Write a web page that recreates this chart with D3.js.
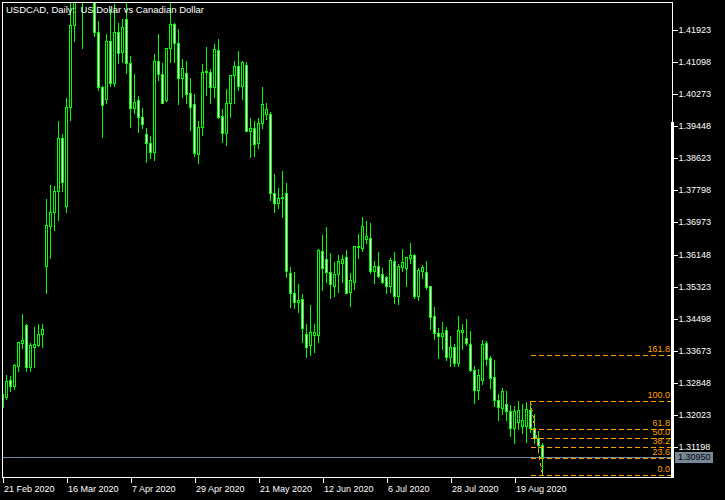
<!DOCTYPE html>
<html><head><meta charset="utf-8">
<script src="https://cdn.jsdelivr.net/npm/d3@7"></script>
<style>html,body{margin:0;padding:0;background:#000;}svg{display:block;}</style>
</head><body>
<svg id="chart" width="725" height="500"></svg>
<script>
// ---- data (USDCAD daily OHLC) ----
const openP = [1.3223,1.3249,1.3292,1.3277,1.3329,1.3388,1.3434,1.3325,1.3378,1.3382,
1.3410,1.3585,1.3689,1.3723,1.3779,1.3914,1.3740,1.3995,1.4205,1.4485,
1.4470,1.4375,1.4500,1.4400,1.4187,1.4045,1.4014,1.4164,1.4057,1.4187,
1.4135,1.4220,1.4107,1.3991,1.4012,1.3969,1.3924,1.3901,1.3879,1.4113,
1.4079,1.4012,1.4145,1.4207,1.4158,1.4070,1.4081,1.4030,1.4002,1.3873,
1.3942,1.4084,1.4084,1.4045,1.4141,1.3971,1.3928,1.4004,1.4077,1.4100,
1.4049,1.4102,1.3933,1.3940,1.3901,1.3952,1.3976,1.3976,1.3772,1.3748,
1.3760,1.3772,1.3568,1.3516,1.3494,1.3500,1.3410,1.3381,1.3408,1.3408,
1.3624,1.3603,1.3571,1.3534,1.3564,1.3593,1.3609,1.3519,1.3545,1.3637,
1.3631,1.3656,1.3657,1.3573,1.3585,1.3564,1.3556,1.3534,1.3598,1.3509,
1.3584,1.3580,1.3607,1.3614,1.3507,1.3573,1.3569,1.3534,1.3457,1.3412,
1.3406,1.3421,1.3352,1.3376,1.3337,1.3415,1.3399,1.3384,1.3318,1.3266,
1.3292,1.3388,1.3349,1.3299,1.3240,1.3219,1.3230,1.3212,1.3168,1.3185,
1.3174,1.3173,1.3215,1.3168,1.3142,1.3126];
const highP = [1.3261,1.3308,1.3305,1.3335,1.3392,1.3465,1.3439,1.3390,1.3431,1.3439,
1.3439,1.3761,1.3796,1.3794,1.3961,1.3927,1.4019,1.4280,1.4530,1.4667,
1.4500,1.4540,1.4510,1.4440,1.4218,1.4051,1.4184,1.4249,1.4262,1.4214,
1.4222,1.4264,1.4128,1.4081,1.4025,1.3995,1.3944,1.3922,1.4132,1.4184,
1.4111,1.4149,1.4264,1.4214,1.4197,1.4120,1.4115,1.4072,1.4030,1.3961,
1.4108,1.4151,1.4094,1.4158,1.4173,1.3991,1.4042,1.4079,1.4115,1.4141,
1.4115,1.4113,1.3969,1.3961,1.3969,1.4048,1.4007,1.3984,1.3824,1.3789,
1.3832,1.3802,1.3585,1.3573,1.3541,1.3516,1.3438,1.3488,1.3438,1.3631,
1.3668,1.3687,1.3622,1.3597,1.3616,1.3616,1.3630,1.3571,1.3639,1.3669,
1.3714,1.3704,1.3699,1.3601,1.3624,1.3582,1.3562,1.3609,1.3624,1.3592,
1.3631,1.3611,1.3647,1.3618,1.3582,1.3590,1.3601,1.3537,1.3483,1.3429,
1.3444,1.3431,1.3408,1.3388,1.3459,1.3440,1.3452,1.3421,1.3331,1.3323,
1.3397,1.3395,1.3357,1.3346,1.3258,1.3274,1.3266,1.3230,1.3227,1.3241,
1.3234,1.3237,1.3239,1.3207,1.3164,1.3133];
const lowP = [1.3218,1.3243,1.3265,1.3268,1.3314,1.3375,1.3314,1.3316,1.3326,1.3380,
1.3378,1.3515,1.3607,1.3678,1.3704,1.3778,1.3725,1.3961,1.4165,1.4350,
1.4146,1.4300,1.4290,1.4177,1.4038,1.3918,1.4004,1.4047,1.4047,1.4107,
1.4111,1.4081,1.3944,1.3978,1.3931,1.3940,1.3854,1.3862,1.3858,1.4064,
1.4004,1.4010,1.4111,1.4111,1.4002,1.4021,1.4004,1.3935,1.3867,1.3850,
1.3922,1.4025,1.4004,1.4021,1.3966,1.3905,1.3897,1.3969,1.4004,1.4038,
1.4015,1.3932,1.3865,1.3867,1.3888,1.3940,1.3963,1.3755,1.3725,1.3734,
1.3712,1.3558,1.3481,1.3478,1.3468,1.3391,1.3352,1.3357,1.3364,1.3391,
1.3524,1.3545,1.3504,1.3507,1.3519,1.3545,1.3515,1.3483,1.3526,1.3607,
1.3625,1.3645,1.3567,1.3541,1.3556,1.3541,1.3517,1.3519,1.3491,1.3488,
1.3573,1.3534,1.3592,1.3504,1.3498,1.3555,1.3526,1.3424,1.3398,1.3349,
1.3372,1.3344,1.3329,1.3329,1.3329,1.3371,1.3382,1.3316,1.3233,1.3243,
1.3282,1.3331,1.3271,1.3226,1.3189,1.3205,1.3189,1.3147,1.3131,1.3166,
1.3157,1.3133,1.3159,1.3129,1.3110,1.3047];
const closeP = [1.3256,1.3290,1.3277,1.3331,1.3390,1.3395,1.3325,1.3382,1.3385,1.3410,
1.3423,1.3691,1.3724,1.3778,1.3914,1.3802,1.3995,1.4205,1.4485,1.4470,
1.4375,1.4500,1.4400,1.4187,1.4045,1.3999,1.4164,1.4057,1.4187,1.4132,
1.4201,1.4107,1.3991,1.4006,1.3969,1.3950,1.3901,1.3879,1.4113,1.4079,
1.4005,1.4147,1.4207,1.4158,1.4070,1.4094,1.4028,1.3995,1.3875,1.3942,
1.4084,1.4087,1.4045,1.4143,1.3969,1.3928,1.4004,1.4077,1.4100,1.4049,
1.4110,1.3933,1.3941,1.3898,1.3952,1.4001,1.3989,1.3772,1.3748,1.3760,
1.3764,1.3573,1.3517,1.3494,1.3498,1.3425,1.3378,1.3415,1.3415,1.3627,
1.3581,1.3571,1.3538,1.3565,1.3598,1.3603,1.3517,1.3549,1.3637,1.3635,
1.3688,1.3663,1.3573,1.3585,1.3560,1.3545,1.3534,1.3601,1.3509,1.3585,
1.3596,1.3609,1.3614,1.3507,1.3575,1.3584,1.3532,1.3455,1.3414,1.3406,
1.3414,1.3352,1.3376,1.3337,1.3421,1.3421,1.3388,1.3317,1.3266,1.3305,
1.3385,1.3346,1.3298,1.3240,1.3222,1.3264,1.3213,1.3168,1.3212,1.3215,
1.3189,1.3217,1.3168,1.3142,1.3126,1.3095];

const priceTicks = [1.41923,1.41098,1.40273,1.39448,1.38623,1.37798,1.36973,
  1.36148,1.35323,1.34498,1.33673,1.32848,1.32023,1.31198];
const dateTickLabels = ["21 Feb 2020","16 Mar 2020","7 Apr 2020","29 Apr 2020",
  "21 May 2020","12 Jun 2020","6 Jul 2020","28 Jul 2020","19 Aug 2020"];
const fibLevels = [0, 23.6, 38.2, 50, 61.8, 100, 161.8];
const fibLevelLabels = ["0.0","23.6","38.2","50.0","61.8","100.0","161.8"];
const fibHighIndex = 132, fibHighPrice = 1.3239;
const fibLowIndex = 135, fibLowPrice = 1.3047;
const bidPrice = 1.30950;
const titleText = "USDCAD, Daily:  US Dollar vs Canadian Dollar";

// ---- trading-day calendar (Mon-Fri) starting 21 Feb 2020 ----
const fmt = d3.timeFormat("%-d %b %Y");
const dates = [];
{ let d = new Date(2020, 1, 21);
  while (dates.length < closeP.length) {
    const wd = d.getDay();
    if (wd !== 0 && wd !== 6) dates.push(fmt(d));
    d = new Date(d.getFullYear(), d.getMonth(), d.getDate() + 1);
  } }
const bars = dates.map((k, i) => ({k, o: openP[i], h: highP[i], l: lowP[i], c: closeP[i]}));

// ---- layout ----
const L = 2, T = 2, R = 672, B = 477;
const FONT = "'Liberation Sans', Arial, sans-serif";
const svg = d3.select("#chart");
svg.append("rect").attr("width", 725).attr("height", 500).attr("fill", "#000");

const x = d3.scalePoint().domain(dates).range([2.5, 2.5 + 4 * (dates.length - 1)]);
const y = d3.scaleLinear().domain([1.31198, 1.41923]).range([447, 30]);
const py = v => Math.round(y(v)) + 0.5;

svg.append("clipPath").attr("id", "plot").append("rect")
  .attr("x", L).attr("y", T).attr("width", R - L).attr("height", B - T);
const g = svg.append("g").attr("clip-path", "url(#plot)").attr("shape-rendering", "crispEdges");

// bid line
g.append("line").attr("x1", L).attr("x2", R).attr("y1", py(bidPrice)).attr("y2", py(bidPrice))
  .attr("stroke", "#778899").attr("stroke-width", 1);

// candles
const lime = "#00ff00";
const cg = g.selectAll("g.bar").data(bars).join("g").attr("class", "bar");
cg.append("line")
  .attr("x1", d => x(d.k)).attr("x2", d => x(d.k))
  .attr("y1", d => py(d.h)).attr("y2", d => py(d.l))
  .attr("stroke", lime).attr("stroke-width", 1);
cg.append("rect")
  .attr("x", d => x(d.k) - 1).attr("width", 2)
  .attr("y", d => py(Math.max(d.o, d.c)))
  .attr("height", d => Math.max(0, py(Math.min(d.o, d.c)) - py(Math.max(d.o, d.c))))
  .attr("fill", d => d.c >= d.o ? "#000" : "#fff")
  .attr("stroke", lime).attr("stroke-width", 1);

// fibonacci retracement
const fibCol = "rgb(255,160,0)";
const fx1 = x(dates[fibHighIndex]), fx2 = x(dates[fibLowIndex]);
const fg = svg.append("g").attr("shape-rendering", "crispEdges");
fg.append("line").attr("x1", fx1).attr("y1", y(fibHighPrice)).attr("x2", fx2).attr("y2", y(fibLowPrice))
  .style("stroke", fibCol).style("stroke-width", "1px").style("stroke-dasharray", "4,3");
const fibY = lv => py(fibLowPrice + (fibHighPrice - fibLowPrice) * lv / 100);
fg.selectAll("line.fibline").data(fibLevels).join("line").attr("class", "fibline")
  .attr("x1", fx1).attr("x2", R).attr("y1", fibY).attr("y2", fibY)
  .style("stroke", fibCol).style("stroke-width", "1px").style("stroke-dasharray", "5,3");
fg.selectAll("text.fibtext").data(fibLevels).join("text").attr("class", "fibtext")
  .attr("x", 670).attr("y", lv => fibY(lv) - 4)
  .attr("text-anchor", "end").style("fill", fibCol)
  .attr("font-family", FONT).attr("font-size", "9px")
  .text((lv, i) => fibLevelLabels[i]);

// frame
svg.append("rect").attr("x", L + 0.5).attr("y", T + 0.5).attr("width", R - L).attr("height", B - T)
  .attr("fill", "none").attr("stroke", "#fff").attr("shape-rendering", "crispEdges");
svg.append("rect").attr("x", 671).attr("y", 122).attr("width", 3).attr("height", B - 122 + 1)
  .attr("fill", "#fff").attr("shape-rendering", "crispEdges");

// title
svg.append("text").attr("x", 6).attr("y", 13).attr("fill", "#fff")
  .attr("font-family", FONT).attr("font-size", "9.5px").style("white-space", "pre")
  .text(titleText);

// right price axis
const yAxis = d3.axisRight(y).tickValues(priceTicks).tickSize(5).tickPadding(1)
  .tickFormat(d3.format(".5f"));
const ya = svg.append("g").attr("transform", `translate(${R + 0.5},0)`).call(yAxis);
ya.select(".domain").remove();
ya.selectAll(".tick").attr("transform", d => `translate(0,${py(d)})`);
ya.selectAll(".tick line").attr("stroke", "#fff").attr("shape-rendering", "crispEdges");
ya.selectAll(".tick text").attr("fill", "#fff").attr("font-family", FONT).attr("font-size", "9px");

// bottom time axis
const xAxis = d3.axisBottom(x).tickValues(dateTickLabels).tickSize(5).tickPadding(3);
const xa = svg.append("g").attr("transform", `translate(0,${B + 0.5})`).call(xAxis);
xa.select(".domain").remove();
xa.selectAll(".tick line").attr("stroke", "#fff").attr("shape-rendering", "crispEdges");
xa.selectAll(".tick text").attr("fill", "#fff").attr("font-family", FONT).attr("font-size", "9px")
  .attr("text-anchor", "start").attr("x", 1);

// bid price label
const by = y(bidPrice);
svg.append("rect").attr("x", 675).attr("y", Math.round(by) - 5).attr("width", 38).attr("height", 11)
  .attr("fill", "#778899");
svg.append("text").attr("x", 678).attr("y", by).attr("dy", "0.35em").attr("fill", "#000")
  .attr("font-family", FONT).attr("font-size", "9px").text(d3.format(".5f")(bidPrice));
</script>
</body></html>
